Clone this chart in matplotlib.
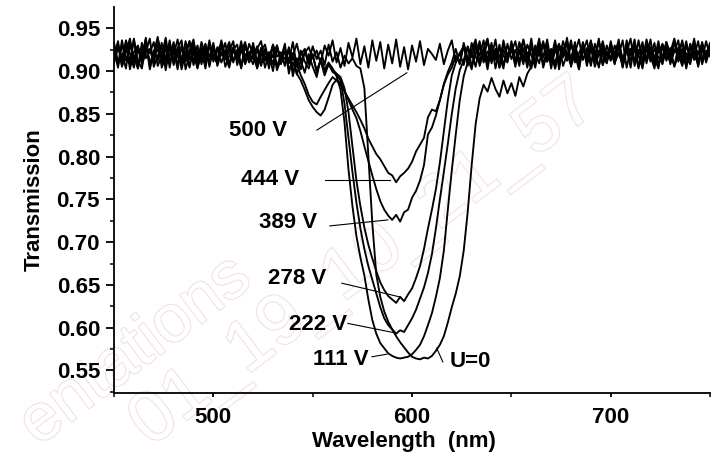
import numpy as np
import matplotlib
matplotlib.use('Agg')
import matplotlib.pyplot as plt
import matplotlib.patheffects as pe

plt.rcParams['font.family'] = ['Liberation Sans', 'DejaVu Sans']
plt.rcParams['font.weight'] = 'bold'
plt.rcParams['font.size'] = 16

# длины волн, шаг 2 нм
wl = np.arange(450, 752, 2)

# пропускание при разных напряжениях
t_500 = [
    0.918, 0.935, 0.906, 0.929, 0.911, 0.938, 0.903, 0.925, 0.932, 0.908, 0.921, 0.940, 0.904,
    0.917, 0.933, 0.909, 0.927, 0.936, 0.902, 0.919, 0.931, 0.912, 0.924, 0.907, 0.930,
    0.915, 0.928, 0.910, 0.922, 0.934, 0.913, 0.920, 0.905, 0.929, 0.917, 0.926, 0.908, 0.923,
    0.931, 0.911, 0.919, 0.927, 0.914, 0.909, 0.925, 0.918, 0.932, 0.912, 0.921, 0.928,
    0.915, 0.924, 0.909, 0.930, 0.918, 0.936, 0.910, 0.927, 0.906, 0.933, 0.916, 0.938, 0.908,
    0.929, 0.904, 0.936, 0.912, 0.934, 0.903, 0.931, 0.909, 0.937, 0.905, 0.928, 0.902,
    0.930, 0.911, 0.935, 0.907, 0.926, 0.920, 0.913, 0.932, 0.908, 0.924, 0.936, 0.910, 0.921,
    0.929, 0.906, 0.933, 0.917, 0.909, 0.927, 0.938, 0.912, 0.923, 0.904, 0.931, 0.919,
    0.926, 0.910, 0.934, 0.914, 0.922, 0.907, 0.930, 0.918, 0.935, 0.911, 0.925, 0.903, 0.929,
    0.916, 0.933, 0.909, 0.921, 0.937, 0.913, 0.927, 0.906, 0.932, 0.918, 0.924, 0.910,
    0.935, 0.915, 0.928, 0.904, 0.931, 0.920, 0.912, 0.936, 0.908, 0.925, 0.917, 0.933, 0.906,
    0.929, 0.914, 0.922, 0.938, 0.911, 0.926, 0.905, 0.932, 0.919, 0.909, 0.934, 0.916, 0.923,
]

t_444 = [
    0.926, 0.904, 0.931, 0.915, 0.908, 0.937, 0.912, 0.903, 0.929, 0.921, 0.934, 0.906, 0.918,
    0.939, 0.910, 0.925, 0.902, 0.930, 0.916, 0.935, 0.907, 0.923, 0.913, 0.932, 0.905,
    0.927, 0.912, 0.919, 0.933, 0.906, 0.924, 0.916, 0.930, 0.909, 0.921, 0.928, 0.903, 0.918,
    0.925, 0.911, 0.931, 0.905, 0.920, 0.914, 0.926, 0.900, 0.908, 0.895, 0.885, 0.872,
    0.864, 0.861, 0.870, 0.878, 0.886, 0.893, 0.889, 0.884, 0.876, 0.868, 0.860, 0.852, 0.843,
    0.833, 0.821, 0.812, 0.803, 0.797, 0.789, 0.781, 0.778, 0.770, 0.777, 0.781, 0.786,
    0.794, 0.806, 0.814, 0.822, 0.846, 0.855, 0.853, 0.866, 0.885, 0.899, 0.910, 0.926, 0.908,
    0.933, 0.915, 0.902, 0.929, 0.918, 0.936, 0.909, 0.924, 0.913, 0.931, 0.907, 0.921,
    0.922, 0.935, 0.911, 0.927, 0.904, 0.930, 0.919, 0.938, 0.908, 0.924, 0.914, 0.933, 0.902,
    0.928, 0.917, 0.936, 0.910, 0.921, 0.931, 0.906, 0.926, 0.913, 0.934, 0.918, 0.909,
    0.929, 0.916, 0.937, 0.905, 0.924, 0.912, 0.932, 0.919, 0.903, 0.930, 0.921, 0.914, 0.935,
    0.908, 0.927, 0.911, 0.933, 0.920, 0.906, 0.929, 0.917, 0.938, 0.910, 0.925, 0.913, 0.931,
]

t_389 = [
    0.913, 0.930, 0.909, 0.936, 0.920, 0.904, 0.927, 0.916, 0.939, 0.907, 0.924, 0.912, 0.933,
    0.901, 0.928, 0.919, 0.937, 0.910, 0.922, 0.906, 0.934, 0.917, 0.926, 0.903, 0.931,
    0.918, 0.909, 0.929, 0.914, 0.923, 0.935, 0.907, 0.926, 0.912, 0.932, 0.919, 0.904, 0.927,
    0.915, 0.922, 0.908, 0.930, 0.913, 0.924, 0.902, 0.910, 0.897, 0.889, 0.878, 0.866,
    0.858, 0.852, 0.848, 0.855, 0.869, 0.884, 0.890, 0.886, 0.877, 0.866, 0.855, 0.845, 0.830,
    0.812, 0.795, 0.778, 0.762, 0.748, 0.738, 0.731, 0.726, 0.732, 0.724, 0.735, 0.738,
    0.752, 0.760, 0.772, 0.790, 0.826, 0.834, 0.848, 0.866, 0.884, 0.896, 0.904, 0.918, 0.909,
    0.930, 0.912, 0.924, 0.937, 0.906, 0.921, 0.915, 0.933, 0.903, 0.927, 0.918, 0.910,
    0.935, 0.912, 0.925, 0.908, 0.931, 0.919, 0.904, 0.928, 0.916, 0.937, 0.910, 0.923, 0.932,
    0.906, 0.920, 0.914, 0.934, 0.902, 0.927, 0.918, 0.936, 0.911, 0.924, 0.907, 0.930,
    0.915, 0.922, 0.934, 0.909, 0.926, 0.904, 0.931, 0.917, 0.912, 0.937, 0.920, 0.906, 0.928,
    0.914, 0.933, 0.908, 0.925, 0.918, 0.936, 0.903, 0.929, 0.913, 0.921, 0.932, 0.910, 0.926,
]

t_278 = [
    0.933, 0.911, 0.920, 0.903, 0.935, 0.914, 0.927, 0.908, 0.922, 0.938, 0.905, 0.918, 0.929,
    0.912, 0.936, 0.907, 0.924, 0.915, 0.931, 0.904, 0.926, 0.910, 0.934, 0.919, 0.913,
    0.925, 0.908, 0.931, 0.917, 0.904, 0.928, 0.913, 0.922, 0.934, 0.910, 0.919, 0.927, 0.906,
    0.923, 0.916, 0.930, 0.901, 0.914, 0.926, 0.909, 0.921, 0.896, 0.912, 0.898, 0.920,
    0.905, 0.893, 0.915, 0.899, 0.909, 0.902, 0.897, 0.893, 0.880, 0.852, 0.812, 0.772, 0.742,
    0.717, 0.697, 0.681, 0.666, 0.653, 0.644, 0.637, 0.633, 0.629, 0.636, 0.631, 0.639,
    0.646, 0.658, 0.672, 0.692, 0.716, 0.738, 0.762, 0.793, 0.830, 0.866, 0.895, 0.910, 0.921,
    0.907, 0.929, 0.916, 0.934, 0.911, 0.926, 0.902, 0.930, 0.919, 0.908, 0.936, 0.914,
    0.927, 0.905, 0.932, 0.918, 0.911, 0.938, 0.909, 0.924, 0.916, 0.930, 0.903, 0.926, 0.913,
    0.935, 0.920, 0.907, 0.929, 0.915, 0.922, 0.936, 0.910, 0.925, 0.904, 0.931, 0.917,
    0.924, 0.908, 0.933, 0.913, 0.927, 0.919, 0.937, 0.905, 0.922, 0.930, 0.911, 0.926, 0.916,
    0.909, 0.934, 0.920, 0.906, 0.928, 0.914, 0.935, 0.912, 0.923, 0.907, 0.930, 0.918, 0.925,
]

t_222 = [
    0.909, 0.928, 0.916, 0.934, 0.902, 0.922, 0.930, 0.913, 0.937, 0.906, 0.919, 0.925, 0.911,
    0.933, 0.904, 0.929, 0.917, 0.908, 0.935, 0.914, 0.921, 0.903, 0.928, 0.912, 0.936,
    0.911, 0.924, 0.932, 0.905, 0.918, 0.927, 0.913, 0.935, 0.908, 0.921, 0.914, 0.929, 0.910,
    0.926, 0.903, 0.931, 0.917, 0.922, 0.906, 0.928, 0.894, 0.915, 0.902, 0.923, 0.908,
    0.918, 0.901, 0.912, 0.895, 0.908, 0.899, 0.896, 0.889, 0.862, 0.822, 0.782, 0.746, 0.716,
    0.692, 0.672, 0.656, 0.640, 0.624, 0.611, 0.603, 0.598, 0.593, 0.597, 0.595, 0.603,
    0.611, 0.621, 0.634, 0.647, 0.664, 0.686, 0.716, 0.750, 0.782, 0.815, 0.850, 0.880, 0.901,
    0.913, 0.928, 0.906, 0.919, 0.935, 0.910, 0.923, 0.916, 0.937, 0.904, 0.925, 0.912,
    0.930, 0.908, 0.921, 0.936, 0.914, 0.903, 0.927, 0.918, 0.933, 0.911, 0.924, 0.907, 0.931,
    0.916, 0.939, 0.905, 0.922, 0.913, 0.929, 0.910, 0.934, 0.919, 0.906, 0.926, 0.915,
    0.932, 0.910, 0.921, 0.907, 0.936, 0.918, 0.925, 0.903, 0.929, 0.914, 0.937, 0.909, 0.923,
    0.931, 0.912, 0.927, 0.905, 0.919, 0.934, 0.916, 0.908, 0.930, 0.921, 0.913, 0.935, 0.917,
]

t_111 = [
    0.924, 0.907, 0.936, 0.912, 0.929, 0.918, 0.903, 0.933, 0.915, 0.926, 0.909, 0.938, 0.920,
    0.905, 0.931, 0.913, 0.927, 0.902, 0.922, 0.935, 0.910, 0.930, 0.908, 0.925, 0.917,
    0.933, 0.906, 0.921, 0.914, 0.929, 0.910, 0.925, 0.903, 0.931, 0.918, 0.908, 0.926, 0.935,
    0.912, 0.920, 0.900, 0.927, 0.915, 0.932, 0.897, 0.918, 0.906, 0.924, 0.911, 0.903,
    0.920, 0.898, 0.913, 0.902, 0.910, 0.903, 0.894, 0.878, 0.840, 0.785, 0.742, 0.707, 0.682,
    0.661, 0.633, 0.609, 0.593, 0.582, 0.576, 0.570, 0.567, 0.565, 0.564, 0.565, 0.566,
    0.569, 0.574, 0.580, 0.590, 0.603, 0.617, 0.636, 0.658, 0.690, 0.738, 0.784, 0.826, 0.866,
    0.894, 0.910, 0.921, 0.905, 0.930, 0.915, 0.936, 0.909, 0.926, 0.918, 0.903, 0.932,
    0.914, 0.925, 0.906, 0.937, 0.917, 0.928, 0.910, 0.933, 0.904, 0.921, 0.915, 0.936, 0.908,
    0.926, 0.912, 0.930, 0.919, 0.902, 0.934, 0.911, 0.927, 0.916, 0.938, 0.907, 0.923,
    0.912, 0.930, 0.918, 0.936, 0.904, 0.926, 0.913, 0.921, 0.934, 0.909, 0.928, 0.916, 0.903,
    0.932, 0.920, 0.911, 0.937, 0.914, 0.925, 0.906, 0.931, 0.917, 0.935, 0.908, 0.924, 0.919,
]

t_0 = [
    0.916, 0.932, 0.905, 0.923, 0.938, 0.910, 0.927, 0.913, 0.935, 0.902, 0.921, 0.930, 0.909,
    0.926, 0.917, 0.934, 0.906, 0.929, 0.911, 0.924, 0.937, 0.904, 0.919, 0.931, 0.908,
    0.929, 0.913, 0.936, 0.918, 0.909, 0.925, 0.931, 0.906, 0.920, 0.914, 0.933, 0.911, 0.927,
    0.904, 0.922, 0.916, 0.930, 0.908, 0.924, 0.912, 0.934, 0.905, 0.919, 0.926, 0.910,
    0.929, 0.914, 0.924, 0.907, 0.931, 0.911, 0.922, 0.904, 0.918, 0.909, 0.915, 0.906, 0.903,
    0.880, 0.802, 0.722, 0.662, 0.636, 0.619, 0.607, 0.598, 0.590, 0.583, 0.577, 0.571,
    0.566, 0.564, 0.563, 0.565, 0.564, 0.567, 0.573, 0.580, 0.590, 0.606, 0.624, 0.640, 0.660,
    0.690, 0.735, 0.790, 0.838, 0.868, 0.884, 0.876, 0.892, 0.879, 0.870, 0.889, 0.874,
    0.886, 0.871, 0.893, 0.882, 0.897, 0.905, 0.921, 0.909, 0.932, 0.915, 0.926, 0.903, 0.930,
    0.918, 0.936, 0.911, 0.924, 0.907, 0.933, 0.916, 0.928, 0.905, 0.920, 0.935, 0.913,
    0.927, 0.909, 0.932, 0.915, 0.922, 0.938, 0.906, 0.925, 0.912, 0.930, 0.918, 0.903, 0.929,
    0.916, 0.934, 0.910, 0.923, 0.936, 0.908, 0.921, 0.914, 0.931, 0.905, 0.926, 0.919, 0.933,
]

curves = [t_500, t_444, t_389, t_278, t_222, t_111, t_0]

# подписи кривых: текст, положение текста, начало и конец выноски
labels = ['500 V', '444 V', '389 V', '278 V', '222 V', '111 V', 'U=0']
label_pos = [(522.4, 0.831), (528.5, 0.773), (537.5, 0.7235), (542.0, 0.658),
             (552.6, 0.604), (564.2, 0.563), (629.5, 0.560)]
lead_from = [(552.1, 0.831), (556.1, 0.773), (558.6, 0.719), (564.7, 0.652),
             (567.7, 0.605), (579.8, 0.566), (615.5, 0.560)]
lead_to = [(597.4, 0.898), (588.8, 0.773), (587.8, 0.726), (593.8, 0.636),
           (591.3, 0.594), (587.3, 0.569), (612.4, 0.576)]

fig = plt.figure(figsize=(7.19, 4.62), dpi=100)
ax = fig.add_axes([0.1586, 0.150, 0.829, 0.835])
ax.patch.set_visible(False)

# водяной знак (контурный текст)
wm = dict(color='white', fontweight='normal', rotation=37,
          rotation_mode='anchor', zorder=-1, ha='left', va='baseline',
          path_effects=[pe.withStroke(linewidth=1.6, foreground='#f4e0e0')])
fig.text(0.053, 0.033, 'entations', fontsize=48, **wm)
fig.text(0.209, 0.031, '01_19_10_21_57', fontsize=52, **wm)

for t in curves:
    ax.plot(wl, t, color='black', lw=1.35)

for lab, p, a, b in zip(labels, label_pos, lead_from, lead_to):
    ax.text(p[0], p[1], lab, ha='center', va='center', fontsize=16, fontweight='bold')
    ax.plot([a[0], b[0]], [a[1], b[1]], color='black', lw=0.8)

ax.set_xlim(450, 750)
ax.set_ylim(0.524, 0.975)
ax.set_xticks([500, 600, 700])
ax.set_xticks([450, 550, 650, 750], minor=True)
ax.set_yticks(np.arange(0.55, 0.96, 0.05))
ax.set_yticks(np.arange(0.525, 0.975, 0.025), minor=True)
ax.yaxis.set_major_formatter(plt.FormatStrFormatter('%.2f'))

ax.spines['top'].set_visible(False)
ax.spines['right'].set_visible(False)
ax.spines['left'].set_linewidth(1.3)
ax.spines['bottom'].set_linewidth(1.3)
ax.tick_params(axis='y', which='major', direction='out', length=5.8, width=1.3, pad=4.3)
ax.tick_params(axis='y', which='minor', direction='out', length=2.9, width=1.1)
ax.tick_params(axis='x', which='major', direction='out', length=3.2, width=1.3, pad=7)
ax.tick_params(axis='x', which='minor', direction='out', length=2.6, width=1.1)

ax.set_xlabel('Wavelength  (nm)', fontweight='bold', labelpad=2, x=0.487)
ax.set_ylabel('Transmission', fontweight='bold', labelpad=8.5)

plt.savefig('out.png', dpi=100)
